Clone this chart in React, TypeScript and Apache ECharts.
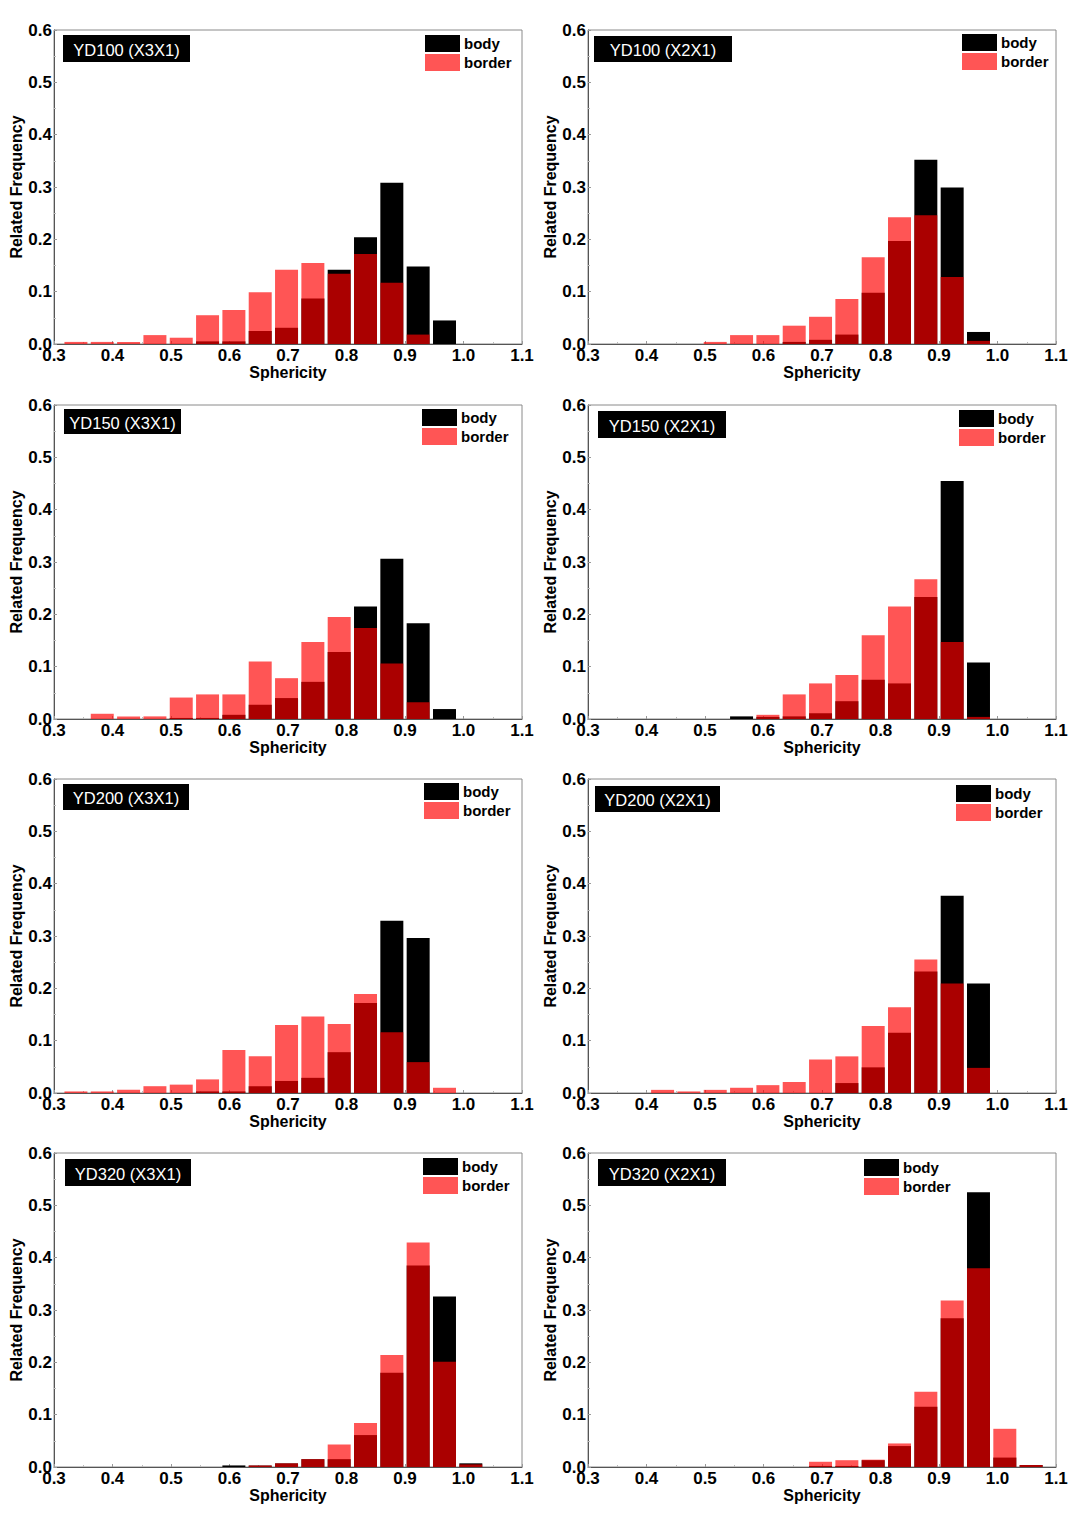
import React, { useEffect, useRef } from "react";
import * as echarts from "echarts";

// Bin centres of the sphericity histogram (bin pitch ~0.045)
const binCenters = [0.3375, 0.3825, 0.4275, 0.4725, 0.5175, 0.5625, 0.6075, 0.6525, 0.6975, 0.7425, 0.7875, 0.8325, 0.8775, 0.9225, 0.9675, 1.0125, 1.0575];

const xTicks = [0.3, 0.4, 0.5, 0.6, 0.7, 0.8, 0.9, 1.0, 1.1];
const yTicks = [0.0, 0.1, 0.2, 0.3, 0.4, 0.5, 0.6];

const panelTitles = ["YD100 (X3X1)", "YD100 (X2X1)", "YD150 (X3X1)", "YD150 (X2X1)", "YD200 (X3X1)", "YD200 (X2X1)", "YD320 (X3X1)", "YD320 (X2X1)"];

const yd100x3Body = [0, 0, 0, 0, 0, 0.005, 0.005, 0.025, 0.031, 0.087, 0.142, 0.204, 0.308, 0.148, 0.045, 0, 0];
const yd100x3Border = [0.004, 0.004, 0.004, 0.017, 0.012, 0.055, 0.065, 0.099, 0.142, 0.155, 0.134, 0.172, 0.117, 0.018, 0, 0, 0];
const yd100x2Body = [0, 0, 0, 0, 0, 0, 0, 0.004, 0.008, 0.018, 0.098, 0.197, 0.352, 0.299, 0.023, 0, 0];
const yd100x2Border = [0, 0, 0, 0, 0.004, 0.017, 0.017, 0.035, 0.052, 0.086, 0.166, 0.242, 0.246, 0.128, 0.006, 0, 0];
const yd150x3Body = [0, 0, 0, 0, 0.002, 0.002, 0.008, 0.027, 0.04, 0.071, 0.128, 0.215, 0.306, 0.183, 0.019, 0, 0];
const yd150x3Border = [0, 0.01, 0.005, 0.005, 0.041, 0.047, 0.047, 0.11, 0.078, 0.147, 0.195, 0.174, 0.106, 0.032, 0, 0, 0];
const yd150x2Body = [0, 0, 0, 0, 0, 0.005, 0.004, 0.005, 0.011, 0.034, 0.075, 0.068, 0.233, 0.455, 0.108, 0, 0];
const yd150x2Border = [0, 0, 0, 0, 0, 0, 0.008, 0.047, 0.068, 0.084, 0.16, 0.215, 0.267, 0.147, 0.004, 0, 0];
const yd200x3Body = [0, 0, 0, 0, 0, 0.003, 0.003, 0.013, 0.023, 0.029, 0.078, 0.172, 0.329, 0.296, 0, 0, 0];
const yd200x3Border = [0.003, 0.003, 0.006, 0.013, 0.016, 0.026, 0.082, 0.07, 0.13, 0.146, 0.132, 0.189, 0.116, 0.059, 0.01, 0, 0];
const yd200x2Body = [0, 0, 0, 0, 0, 0, 0, 0, 0, 0.019, 0.049, 0.115, 0.232, 0.377, 0.209, 0, 0];
const yd200x2Border = [0, 0, 0.006, 0.003, 0.006, 0.01, 0.015, 0.021, 0.064, 0.07, 0.128, 0.164, 0.255, 0.209, 0.048, 0, 0];
const yd320x3Body = [0, 0, 0, 0, 0, 0, 0.003, 0.003, 0.007, 0.015, 0.015, 0.061, 0.18, 0.385, 0.326, 0.007, 0];
const yd320x3Border = [0, 0, 0, 0, 0, 0, 0, 0.003, 0.007, 0.015, 0.043, 0.084, 0.214, 0.429, 0.201, 0.005, 0];
const yd320x2Body = [0, 0, 0, 0, 0, 0, 0, 0, 0.002, 0.002, 0.013, 0.04, 0.115, 0.284, 0.525, 0.018, 0.004];
const yd320x2Border = [0, 0, 0, 0, 0, 0, 0, 0, 0.01, 0.013, 0.014, 0.045, 0.144, 0.318, 0.38, 0.073, 0.004];

const bodySeries = [yd100x3Body, yd100x2Body, yd150x3Body, yd150x2Body, yd200x3Body, yd200x2Body, yd320x3Body, yd320x2Body];
const borderSeries = [yd100x3Border, yd100x2Border, yd150x3Border, yd150x2Border, yd200x3Border, yd200x2Border, yd320x3Border, yd320x2Border];

// ---- layout (pixels) ----
const BAR_W = 0.0393;
const colLeft = [54, 588];
const colWidth = [468, 468];
const rowTop = [30, 405, 779, 1153];
const GRID_H = 314;
// title boxes: x, y, w, h
const titleBoxes = [
  [63, 35, 127, 27], [594, 36, 138, 26],
  [64, 409, 117, 25], [598, 411, 128, 27],
  [63, 784, 126, 26], [595, 786, 125, 26],
  [65, 1159, 126, 27], [598, 1159, 128, 27],
];
// legend top-left
const legendPos = [
  [425, 35], [962, 34],
  [422, 409], [959, 410],
  [424, 783], [956, 785],
  [423, 1158], [864, 1159],
];

const BODY_COLOR = "#000000";
const BORDER_COLOR = "rgba(255,0,0,0.667)";
const FONT = "'Liberation Sans', Arial, sans-serif";

export default function App() {
  const ref = useRef<HTMLDivElement>(null);
  useEffect(() => {
    if (!ref.current) return;
    const chart = echarts.init(ref.current, undefined, { renderer: "svg" });

    const grids: any[] = [];
    const xAxes: any[] = [];
    const yAxes: any[] = [];
    const series: any[] = [];
    const legends: any[] = [];
    const graphics: any[] = [];

    const renderItem = (params: any, api: any) => {
      const x = api.value(0);
      const y = api.value(1);
      const p0 = api.coord([x - BAR_W / 2, y]);
      const p1 = api.coord([x + BAR_W / 2, 0]);
      return {
        type: "rect",
        shape: { x: p0[0], y: p0[1], width: p1[0] - p0[0], height: p1[1] - p0[1] },
        style: api.style(),
      };
    };

    for (let i = 0; i < 8; i++) {
      const col = i % 2;
      const row = Math.floor(i / 2);
      grids.push({
        left: colLeft[col],
        top: rowTop[row],
        width: colWidth[col],
        height: GRID_H,
        show: true,
        borderColor: "#8a8a8a",
        borderWidth: 1,
        backgroundColor: "transparent",
      });
      xAxes.push({
        gridIndex: i,
        type: "value",
        min: xTicks[0],
        max: xTicks[xTicks.length - 1],
        interval: 0.1,
        name: "Sphericity",
        nameLocation: "middle",
        nameGap: 19,
        nameTextStyle: { fontFamily: FONT, fontWeight: "bold", fontSize: 16, color: "#000" },
        axisLine: { show: true, onZero: false, lineStyle: { color: "#555", width: 1 } },
        axisTick: { show: true, inside: true, length: 3, lineStyle: { color: "#999" } },
        minorTick: { show: true, splitNumber: 2, length: 2, lineStyle: { color: "#bbb" } },
        splitLine: { show: false },
        axisLabel: {
          margin: 3,
          fontFamily: FONT,
          fontWeight: "bold",
          fontSize: 17,
          color: "#000",
          formatter: (v: number) => v.toFixed(1),
        },
      });
      yAxes.push({
        gridIndex: i,
        type: "value",
        min: yTicks[0],
        max: yTicks[yTicks.length - 1],
        interval: 0.1,
        name: "Related Frequency",
        nameLocation: "middle",
        nameGap: 30,
        nameTextStyle: { fontFamily: FONT, fontWeight: "bold", fontSize: 16, color: "#000" },
        axisLine: { show: true, lineStyle: { color: "#555", width: 1 } },
        axisTick: { show: true, inside: true, length: 3, lineStyle: { color: "#999" } },
        minorTick: { show: true, splitNumber: 2, length: 2, lineStyle: { color: "#bbb" } },
        splitLine: { show: false },
        axisLabel: {
          margin: 2,
          fontFamily: FONT,
          fontWeight: "bold",
          fontSize: 17,
          color: "#000",
          formatter: (v: number) => v.toFixed(1),
        },
      });
      const bodyData = binCenters.map((c, k) => [c, bodySeries[i][k]]).filter((d) => d[1] > 0);
      const borderData = binCenters.map((c, k) => [c, borderSeries[i][k]]).filter((d) => d[1] > 0);
      series.push({
        type: "custom",
        name: "body",
        xAxisIndex: i,
        yAxisIndex: i,
        renderItem,
        itemStyle: { color: BODY_COLOR },
        encode: { x: 0, y: 1 },
        data: bodyData,
        z: 2,
      });
      series.push({
        type: "custom",
        name: "border",
        xAxisIndex: i,
        yAxisIndex: i,
        renderItem,
        itemStyle: { color: BORDER_COLOR },
        encode: { x: 0, y: 1 },
        data: borderData,
        z: 3,
      });
      legends.push({
        left: legendPos[i][0],
        top: legendPos[i][1],
        orient: "vertical",
        padding: 0,
        itemGap: 2,
        itemWidth: 35,
        itemHeight: 17,
        icon: "rect",
        selectedMode: false,
        data: ["body", "border"],
        textStyle: { fontFamily: FONT, fontWeight: "bold", fontSize: 15, color: "#000", padding: [0, 0, 0, -1] },
      });
      const [bx, by, bw, bh] = titleBoxes[i];
      graphics.push({
        type: "group",
        left: bx,
        top: by,
        z: 10,
        children: [
          { type: "rect", shape: { x: 0, y: 0, width: bw, height: bh }, style: { fill: "#000" } },
          {
            type: "text",
            x: bw / 2,
            y: bh / 2 + 1,
            style: {
              text: panelTitles[i],
              fill: "#fff",
              fontFamily: FONT,
              fontSize: 16.5,
              align: "center",
              verticalAlign: "middle",
            },
          },
        ],
      });
    }

    chart.setOption({
      animation: false,
      backgroundColor: "#fff",
      grid: grids,
      xAxis: xAxes,
      yAxis: yAxes,
      legend: legends,
      series,
      graphic: graphics,
    });
    return () => chart.dispose();
  }, []);
  return (
    <div
      ref={ref}
      style={{ position: "absolute", left: 0, top: 0, width: 1080, height: 1514, background: "#fff" }}
    />
  );
}
